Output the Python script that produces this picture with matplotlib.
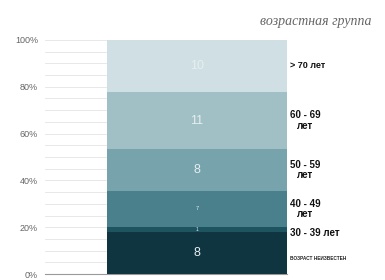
import matplotlib
matplotlib.use("Agg")
import matplotlib.pyplot as plt
import numpy as np

groups = ["возраст неизвестен", "30 - 39 лет", "40 - 49\nлет", "50 - 59\nлет", "60 - 69\nлет", "> 70 лет"]
counts = [8, 1, 7, 8, 11, 10]
colors = ["#0f3540", "#1d5460", "#4a808b", "#76a3ac", "#a0c0c5", "#cfdfe3"]
label_sizes = [9, 3.5, 4, 9, 9, 9]
yticks = [0, 20, 40, 60, 80, 100]
ytick_labels = ["0%", "20%", "40%", "60%", "80%", "100%"]

total = sum(counts)
pcts = [c / total * 100 for c in counts]

fig = plt.figure(figsize=(3.85, 2.8), dpi=100)
ax = fig.add_axes([45/385, 6/280, (287-45)/385, 234/280])

bottom = 0
for p, c, col, fs in zip(pcts, counts, colors, label_sizes):
    ax.bar(1, p, bottom=bottom, width=1.0, color=col, zorder=3)
    ax.text(1, bottom + p/2, str(c), ha="center", va="center", color="#e6eef0",
            fontsize=fs, fontfamily="Liberation Sans", zorder=4)
    bottom += p

ax.set_xlim(0.5 - 0.345, 1.5)
ax.set_ylim(0, 100)
ax.set_yticks(yticks)
ax.set_yticklabels(ytick_labels, fontsize=6.5, color="#666666", fontfamily="Liberation Sans")
ax.set_yticks(np.arange(0, 101, 5), minor=True)
ax.tick_params(axis="y", length=0, pad=5, which="both")
ax.set_xticks([])
ax.grid(axis="y", which="both", color="#e4e4e4", linewidth=0.6, zorder=0)
for s in ["top", "right", "left"]:
    ax.spines[s].set_visible(False)
ax.spines["bottom"].set_color("#999999")
ax.spines["bottom"].set_linewidth(0.8)

# right-side category labels
bottom = 0
for g, p in zip(groups, pcts):
    mid = bottom + p/2
    bottom += p
    if g == "возраст неизвестен":
        fig.text(290/385, 1 - 258/280, g.upper(), fontsize=3.4, fontweight="bold",
                 color="#222222", va="center", ha="left", fontfamily="Liberation Sans")
    elif "\n" in g:
        fig_y = ax.transData.transform((1, mid))[1] / fig.dpi / 2.8
        fig.text(290/385, fig_y, g, fontsize=7, fontweight="bold", color="#111111",
                 va="center", ha="left", multialignment="center", linespacing=1.1,
                 fontfamily="Liberation Sans")
    else:
        fig_y = ax.transData.transform((1, mid))[1] / fig.dpi / 2.8
        if g.startswith("30"):
            fig_y = 1 - 233/280
        fig.text(290/385, fig_y, g, fontsize=7 if g.startswith("30") else 6.5,
                 fontweight="bold", color="#111111",
                 va="center", ha="left", fontfamily="Liberation Sans")

fig.text(372/385, 1 - 22/280, "возрастная группа", fontsize=10, style="italic",
         color="#666666", ha="right", va="center", fontfamily="Liberation Serif")

fig.savefig("out.png", dpi=100)
